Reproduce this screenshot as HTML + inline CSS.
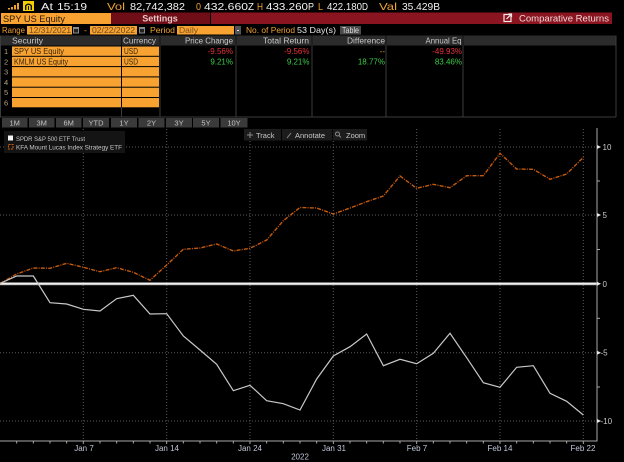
<!DOCTYPE html>
<html>
<head>
<meta charset="utf-8">
<style>
html,body{margin:0;padding:0;background:#000;}
svg{display:block;}
text{font-family:"Liberation Sans",sans-serif;}
</style>
</head>
<body>
<svg width="624" height="462" viewBox="0 0 624 462" xmlns="http://www.w3.org/2000/svg">
<rect x="0" y="0" width="624" height="462" fill="#000"/>

<!-- ===== Row 1: ticker bar ===== -->
<g fill="#f0a030">
  <rect x="8" y="8" width="2" height="1.5"/>
  <rect x="11" y="7" width="2" height="2.5"/>
  <rect x="14" y="5" width="2" height="4.5"/>
  <rect x="17" y="3" width="2" height="6.5"/>
</g>
<rect x="23" y="1" width="11" height="10" fill="#f3cf00"/>
<path d="M25 10 L25 5.5 Q28.5 1.5 32 5.5 L32 10 L30.6 10 L30.6 6 Q28.5 3.8 26.4 6 L26.4 10 Z" fill="#111"/>
<rect x="28" y="6" width="1" height="4" fill="#111"/>
<g font-size="10.5" fill="#f2f2f2">
  <text x="41" y="9.8" textLength="12" lengthAdjust="spacingAndGlyphs">At</text>
  <text x="57" y="9.8" textLength="30" lengthAdjust="spacingAndGlyphs">15:19</text>
  <text x="107" y="9.8" fill="#f0a030" textLength="18" lengthAdjust="spacingAndGlyphs">Vol</text>
  <text x="130" y="9.8" textLength="55" lengthAdjust="spacingAndGlyphs">82,742,382</text>
  <text x="196" y="9.8" fill="#f0a030" textLength="5" lengthAdjust="spacingAndGlyphs">0</text>
  <text x="204" y="9.8" textLength="44" lengthAdjust="spacingAndGlyphs">432.660</text>
  <text x="248" y="9.8" textLength="6" lengthAdjust="spacingAndGlyphs">Z</text>
  <text x="257" y="9.8" fill="#f0a030" textLength="6" lengthAdjust="spacingAndGlyphs">H</text>
  <text x="266" y="9.8" textLength="42" lengthAdjust="spacingAndGlyphs">433.260</text>
  <text x="308" y="9.8" textLength="6" lengthAdjust="spacingAndGlyphs">P</text>
  <text x="318" y="9.8" fill="#f0a030" textLength="5" lengthAdjust="spacingAndGlyphs">L</text>
  <text x="327" y="9.8" textLength="35" lengthAdjust="spacingAndGlyphs">422.180</text>
  <text x="362" y="9.8" textLength="6" lengthAdjust="spacingAndGlyphs">D</text>
  <text x="379" y="9.8" fill="#f0a030" textLength="18" lengthAdjust="spacingAndGlyphs">Val</text>
  <text x="402" y="9.8" textLength="38" lengthAdjust="spacingAndGlyphs">35.429B</text>
</g>

<!-- ===== Row 2 ===== -->
<rect x="1" y="13" width="110" height="11" fill="#f7a231"/>
<text x="3" y="22" font-size="9.5" fill="#2a1a05" textLength="62" lengthAdjust="spacingAndGlyphs">SPY US Equity</text>
<rect x="111" y="12.5" width="99" height="11.5" fill="#6f0e16"/>
<text x="160" y="21.5" font-size="9" fill="#e6c6c8" text-anchor="middle" font-weight="bold">Settings</text>
<rect x="211" y="12.5" width="401" height="11.5" fill="#8a1420"/>
<rect x="504" y="14.5" width="7" height="7" fill="none" stroke="#f2e6e6" stroke-width="1.2"/>
<path d="M506.5 19 L511 14.5 M508.5 14 L511.5 14 L511.5 17" stroke="#f2e6e6" stroke-width="1.2" fill="none"/>
<text x="519" y="21.5" font-size="9" fill="#f0dada" textLength="90" lengthAdjust="spacingAndGlyphs">Comparative Returns</text>

<!-- ===== Row 3 ===== -->
<g font-size="8.5">
  <text x="2" y="33" fill="#f0a030" textLength="23" lengthAdjust="spacingAndGlyphs">Range</text>
  <rect x="27" y="26" width="45" height="8.5" fill="#f7a231"/>
  <text x="29" y="33" fill="#6b4a20" textLength="42" lengthAdjust="spacingAndGlyphs">12/31/2021</text>
  <rect x="73" y="27" width="6" height="6.5" fill="#8a8a8a"/>
  <rect x="74" y="29" width="4" height="3.5" fill="#222"/>
  <text x="84" y="33" fill="#f0a030">-</text>
  <rect x="90" y="26" width="47" height="8.5" fill="#f7a231"/>
  <text x="92" y="33" fill="#6b4a20" textLength="43" lengthAdjust="spacingAndGlyphs">02/22/2022</text>
  <rect x="139" y="27" width="6" height="6.5" fill="#8a8a8a"/>
  <rect x="140" y="29" width="4" height="3.5" fill="#222"/>
  <text x="150" y="33" fill="#f0a030" textLength="25" lengthAdjust="spacingAndGlyphs">Period</text>
  <rect x="177" y="26" width="57" height="8.5" fill="#f7a231"/>
  <text x="179" y="33" fill="#7a5520" textLength="19" lengthAdjust="spacingAndGlyphs">Daily</text>
  <rect x="235" y="26" width="6" height="8.5" fill="#555"/>
  <rect x="237" y="30" width="2" height="1" fill="#ddd"/>
  <text x="246" y="33" fill="#f0a030" textLength="49" lengthAdjust="spacingAndGlyphs">No. of Period</text>
  <text x="297" y="33" fill="#e8e8e8" textLength="39" lengthAdjust="spacingAndGlyphs">53 Day(s)</text>
  <rect x="340" y="26" width="21" height="8.5" fill="#4a4a4a"/>
  <text x="342" y="33" fill="#dcdcdc" textLength="17" lengthAdjust="spacingAndGlyphs">Table</text>
</g>

<!-- ===== Table ===== -->
<rect x="1" y="35.5" width="615" height="10" fill="#2b2b2b"/>
<g stroke="#151515" stroke-width="1">
  <line x1="121.5" y1="35.5" x2="121.5" y2="45.5"/>
  <line x1="160" y1="35.5" x2="160" y2="45.5"/>
  <line x1="236" y1="35.5" x2="236" y2="45.5"/>
  <line x1="312" y1="35.5" x2="312" y2="45.5"/>
  <line x1="386" y1="35.5" x2="386" y2="45.5"/>
  <line x1="463" y1="35.5" x2="463" y2="45.5"/>
</g>
<g font-size="8" fill="#c8c8c8">
  <text x="12" y="43.5" textLength="31" lengthAdjust="spacingAndGlyphs">Security</text>
  <text x="123" y="43.5" textLength="33" lengthAdjust="spacingAndGlyphs">Currency</text>
  <text x="233" y="43.5" text-anchor="end" textLength="48" lengthAdjust="spacingAndGlyphs">Price Change</text>
  <text x="309" y="43.5" text-anchor="end" textLength="46" lengthAdjust="spacingAndGlyphs">Total Return</text>
  <text x="385" y="43.5" text-anchor="end" textLength="38" lengthAdjust="spacingAndGlyphs">Difference</text>
  <text x="461.5" y="43.5" text-anchor="end" textLength="36" lengthAdjust="spacingAndGlyphs">Annual Eq</text>
</g>
<!-- orange rows -->
<g fill="#f7a231">
  <rect x="12" y="46.5" width="109" height="9.3"/>
  <rect x="122" y="46.5" width="37" height="9.3"/>
  <rect x="12" y="56.8" width="109" height="9.3"/>
  <rect x="122" y="56.8" width="37" height="9.3"/>
  <rect x="12" y="67.1" width="109" height="9.3"/>
  <rect x="122" y="67.1" width="37" height="9.3"/>
  <rect x="12" y="77.4" width="109" height="9.3"/>
  <rect x="122" y="77.4" width="37" height="9.3"/>
  <rect x="12" y="87.7" width="109" height="9.3"/>
  <rect x="122" y="87.7" width="37" height="9.3"/>
  <rect x="12" y="98" width="109" height="9.3"/>
  <rect x="122" y="98" width="37" height="9.3"/>
</g>
<g font-size="7.5" fill="#b8a080">
  <text x="4" y="54">1</text>
  <text x="4" y="64.3">2</text>
  <text x="4" y="74.6">3</text>
  <text x="4" y="84.9">4</text>
  <text x="4" y="95.2">5</text>
  <text x="4" y="105.5">6</text>
</g>
<g font-size="8" fill="#3a2508">
  <text x="14" y="54" textLength="50" lengthAdjust="spacingAndGlyphs">SPY US Equity</text>
  <text x="124" y="54" textLength="14" lengthAdjust="spacingAndGlyphs">USD</text>
  <text x="14" y="64.3" textLength="54" lengthAdjust="spacingAndGlyphs">KMLM US Equity</text>
  <text x="124" y="64.3" textLength="14" lengthAdjust="spacingAndGlyphs">USD</text>
</g>
<g stroke="#3c3c3c" stroke-width="1">
  <line x1="0.5" y1="35.5" x2="0.5" y2="117"/>
  <line x1="121.5" y1="107" x2="121.5" y2="117"/>
  <line x1="160" y1="45.5" x2="160" y2="117"/>
  <line x1="236" y1="45.5" x2="236" y2="117"/>
  <line x1="312" y1="45.5" x2="312" y2="117"/>
  <line x1="386" y1="45.5" x2="386" y2="117"/>
  <line x1="463" y1="45.5" x2="463" y2="117"/>
  <line x1="616" y1="35.5" x2="616" y2="117"/>
  <line x1="0" y1="117" x2="616" y2="117"/>
</g>
<g font-size="8" text-anchor="end">
  <text x="233" y="54" fill="#e8303a">-9.56%</text>
  <text x="309.5" y="54" fill="#e8303a">-9.56%</text>
  <text x="385" y="54" fill="#e09030">--</text>
  <text x="462" y="54" fill="#e8303a">-49.93%</text>
  <text x="233" y="64.3" fill="#3ccc48">9.21%</text>
  <text x="309.5" y="64.3" fill="#3ccc48">9.21%</text>
  <text x="385" y="64.3" fill="#3ccc48">18.77%</text>
  <text x="462" y="64.3" fill="#3ccc48">83.46%</text>
</g>

<!-- ===== Period buttons ===== -->
<g fill="#3a3a3a">
  <rect x="2" y="118" width="25.5" height="9.5"/>
  <rect x="29" y="118" width="25.5" height="9.5"/>
  <rect x="56" y="118" width="25.5" height="9.5"/>
  <rect x="83" y="118" width="26" height="9.5"/>
  <rect x="111" y="118" width="26" height="9.5"/>
  <rect x="138.5" y="118" width="26" height="9.5"/>
  <rect x="166" y="118" width="26" height="9.5"/>
  <rect x="193" y="118" width="26" height="9.5"/>
  <rect x="220.5" y="118" width="27" height="9.5"/>
</g>
<g font-size="7.5" fill="#c4c4c4" text-anchor="middle">
  <text x="14.7" y="125.5">1M</text>
  <text x="41.7" y="125.5">3M</text>
  <text x="68.7" y="125.5">6M</text>
  <text x="96" y="125.5">YTD</text>
  <text x="124" y="125.5">1Y</text>
  <text x="151.5" y="125.5">2Y</text>
  <text x="179" y="125.5">3Y</text>
  <text x="206" y="125.5">5Y</text>
  <text x="234" y="125.5">10Y</text>
</g>

<!-- ===== Chart grid ===== -->
<g stroke="#5a5a5a" stroke-width="1" stroke-dasharray="1 2">
  <line x1="0" y1="147" x2="597" y2="147"/>
  <line x1="0" y1="215" x2="597" y2="215"/>
  <line x1="0" y1="352.7" x2="597" y2="352.7"/>
  <line x1="0" y1="421" x2="597" y2="421"/>
  <line x1="83.3" y1="129" x2="83.3" y2="441"/>
  <line x1="166.7" y1="129" x2="166.7" y2="441"/>
  <line x1="250" y1="129" x2="250" y2="441"/>
  <line x1="333.3" y1="129" x2="333.3" y2="441"/>
  <line x1="416.7" y1="129" x2="416.7" y2="441"/>
  <line x1="500" y1="129" x2="500" y2="441"/>
  <line x1="583.3" y1="129" x2="583.3" y2="441"/>
</g>

<!-- Legend -->
<rect x="4" y="131" width="121" height="22" fill="#141414"/>
<rect x="8" y="135.5" width="5" height="5" fill="#f4f4f4"/>
<rect x="8.5" y="144.5" width="4.5" height="4.5" fill="none" stroke="#d06010" stroke-width="1" stroke-dasharray="2 1"/>
<g font-size="6.8" fill="#c8c8c8">
  <text x="16" y="141" textLength="69" lengthAdjust="spacingAndGlyphs">SPDR S&amp;P 500 ETF Trust</text>
  <text x="16" y="149.5" textLength="106" lengthAdjust="spacingAndGlyphs">KFA Mount Lucas Index Strategy ETF</text>
</g>

<!-- Toolbar -->
<rect x="244" y="129" width="37" height="11.5" fill="#1c1c1c"/>
<rect x="282" y="129" width="50" height="11.5" fill="#1c1c1c"/>
<rect x="333" y="129" width="34" height="11.5" fill="#1c1c1c"/>
<g stroke="#8a8a8a" stroke-width="1" fill="none">
  <line x1="250" y1="132" x2="250" y2="138"/>
  <line x1="247" y1="135" x2="253" y2="135"/>
  <line x1="287" y1="138" x2="291" y2="133"/>
  <circle cx="337.5" cy="134" r="2"/>
  <line x1="339" y1="135.5" x2="341" y2="137.5"/>
</g>
<g font-size="7.5" fill="#c8c8c8">
  <text x="256" y="137.8">Track</text>
  <text x="295" y="137.8">Annotate</text>
  <text x="346" y="137.8">Zoom</text>
</g>

<!-- Zero line -->
<line x1="0" y1="283.8" x2="597" y2="283.8" stroke="#9a9a9a" stroke-width="3"/>
<line x1="0" y1="283.8" x2="597" y2="283.8" stroke="#ffffff" stroke-width="1.4"/>

<!-- KMLM series -->
<polyline fill="none" stroke="#c45a0c" stroke-width="1.4" stroke-dasharray="4 1.2 1 1.2"
points="0,283.5 16.67,274 33.33,268 50,268.3 66.67,263.3 83.33,267.3 100,271.7 116.67,267.7 133.33,272.3 150,280.3 166.67,265 183.33,249.3 200,248 216.67,244 233.33,251 250,248.3 266.67,240 283.33,220.7 300,207.5 316.67,208 333.33,214 350,208 366.67,201.7 383.33,196 400,176 416.67,188.3 433.33,184.3 450,187.7 466.67,175.7 483.33,175.7 500,153.3 516.67,169 533.33,169.3 550,179.3 566.67,174 583.33,157.3"/>

<!-- SPY series -->
<polyline fill="none" stroke="#c8c8c8" stroke-width="1.2"
points="0,283.5 16.67,276 33.33,276 50,302.7 66.67,304 83.33,309.3 100,311 116.67,298.7 133.33,295.3 150,314 166.67,313.7 183.33,336 200,350 216.67,364.3 233.33,390.7 250,385.3 266.67,400.7 283.33,403.7 300,410 316.67,379 333.33,356 350,346.7 366.67,334 383.33,365.7 400,359.3 416.67,363.7 433.33,353.3 450,333.3 466.67,357.7 483.33,382.7 500,387.3 516.67,367.3 533.33,365.7 550,393.3 566.67,401.3 583.33,415"/>

<!-- Right axis -->
<line x1="597" y1="128" x2="597" y2="441.5" stroke="#a8a8a8" stroke-width="1"/>
<g fill="#e8e8e8">
  <path d="M597 145 L601 147 L597 149 Z"/>
  <path d="M597 213 L601 215 L597 217 Z"/>
  <path d="M597 281.8 L601 283.8 L597 285.8 Z"/>
  <path d="M597 350.7 L601 352.7 L597 354.7 Z"/>
  <path d="M597 419 L601 421 L597 423 Z"/>
</g>
<g stroke="#a8a8a8" stroke-width="1">
  <line x1="597" y1="181" x2="600" y2="181"/>
  <line x1="597" y1="249.5" x2="600" y2="249.5"/>
  <line x1="597" y1="318.3" x2="600" y2="318.3"/>
  <line x1="597" y1="387" x2="600" y2="387"/>
</g>
<g font-size="8" fill="#c8c8c8">
  <text x="602.5" y="150">10</text>
  <text x="602.5" y="218">5</text>
  <text x="602.5" y="286.8">0</text>
  <text x="600.5" y="355.7">-5</text>
  <text x="600.5" y="424">-10</text>
</g>

<!-- Bottom axis -->
<line x1="0" y1="441" x2="597.5" y2="441" stroke="#a8a8a8" stroke-width="1"/>
<g stroke="#a8a8a8" stroke-width="1">
  <line x1="16.67" y1="441" x2="16.67" y2="443.5"/><line x1="33.33" y1="441" x2="33.33" y2="443.5"/>
  <line x1="50" y1="441" x2="50" y2="443.5"/><line x1="66.67" y1="441" x2="66.67" y2="443.5"/>
  <line x1="83.33" y1="441" x2="83.33" y2="444"/><line x1="100" y1="441" x2="100" y2="443.5"/>
  <line x1="116.67" y1="441" x2="116.67" y2="443.5"/><line x1="133.33" y1="441" x2="133.33" y2="443.5"/>
  <line x1="150" y1="441" x2="150" y2="443.5"/><line x1="166.67" y1="441" x2="166.67" y2="444"/>
  <line x1="183.33" y1="441" x2="183.33" y2="443.5"/><line x1="200" y1="441" x2="200" y2="443.5"/>
  <line x1="216.67" y1="441" x2="216.67" y2="443.5"/><line x1="233.33" y1="441" x2="233.33" y2="443.5"/>
  <line x1="250" y1="441" x2="250" y2="444"/><line x1="266.67" y1="441" x2="266.67" y2="443.5"/>
  <line x1="283.33" y1="441" x2="283.33" y2="443.5"/><line x1="300" y1="441" x2="300" y2="443.5"/>
  <line x1="316.67" y1="441" x2="316.67" y2="443.5"/><line x1="333.33" y1="441" x2="333.33" y2="444"/>
  <line x1="350" y1="441" x2="350" y2="443.5"/><line x1="366.67" y1="441" x2="366.67" y2="443.5"/>
  <line x1="383.33" y1="441" x2="383.33" y2="443.5"/><line x1="400" y1="441" x2="400" y2="443.5"/>
  <line x1="416.67" y1="441" x2="416.67" y2="444"/><line x1="433.33" y1="441" x2="433.33" y2="443.5"/>
  <line x1="450" y1="441" x2="450" y2="443.5"/><line x1="466.67" y1="441" x2="466.67" y2="443.5"/>
  <line x1="483.33" y1="441" x2="483.33" y2="443.5"/><line x1="500" y1="441" x2="500" y2="444"/>
  <line x1="516.67" y1="441" x2="516.67" y2="443.5"/><line x1="533.33" y1="441" x2="533.33" y2="443.5"/>
  <line x1="550" y1="441" x2="550" y2="443.5"/><line x1="566.67" y1="441" x2="566.67" y2="443.5"/>
  <line x1="583.33" y1="441" x2="583.33" y2="444"/>
</g>
<g font-size="8" fill="#c0c8d8" text-anchor="middle">
  <text x="84" y="451">Jan 7</text>
  <text x="167" y="451">Jan 14</text>
  <text x="250" y="451">Jan 24</text>
  <text x="334" y="451">Jan 31</text>
  <text x="417" y="451">Feb 7</text>
  <text x="500" y="451">Feb 14</text>
  <text x="583" y="451">Feb 22</text>
  <text x="300" y="459.5">2022</text>
</g>
</svg>
</body>
</html>
